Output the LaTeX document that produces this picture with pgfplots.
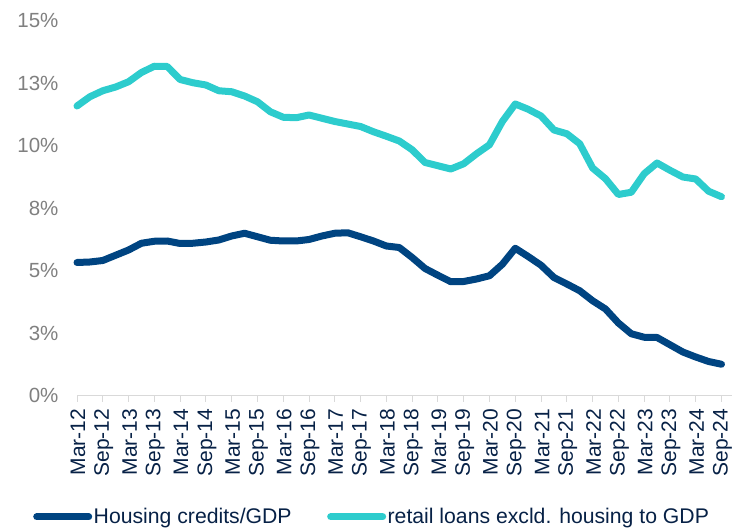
\documentclass[border=0pt]{standalone}
\usepackage{pgfplots}
\pgfplotsset{compat=1.18}
\usepackage{fontspec}
\setmainfont{Liberation Sans}
\definecolor{bbvablue}{RGB}{0,68,129}
\definecolor{bbvaaqua}{RGB}{45,204,205}
\definecolor{navytext}{RGB}{7,33,70}
\definecolor{ticktext}{RGB}{128,128,128}
\definecolor{axisgray}{RGB}{217,217,217}
\begin{document}
\begin{tikzpicture}
\useasboundingbox (0,0) rectangle (732bp,530bp);
\begin{axis}[
  at={(77bp,134.5bp)}, anchor=south west,
  scale only axis,
  width=657.4bp, height=375bp,
  xmin=0, xmax=51, ymin=0, ymax=15,
  axis x line*=bottom, axis y line*=left,
  x axis line style={draw=axisgray, line width=1.2bp},
  y axis line style={draw=none},
  xtick={0,2,...,50},
  xticklabels={Mar-12,Sep-12,Mar-13,Sep-13,Mar-14,Sep-14,Mar-15,Sep-15,Mar-16,Sep-16,Mar-17,Sep-17,Mar-18,Sep-18,Mar-19,Sep-19,Mar-20,Sep-20,Mar-21,Sep-21,Mar-22,Sep-22,Mar-23,Sep-23,Mar-24,Sep-24},
  ytick={0,2.5,5,7.5,10,12.5,15},
  yticklabels={0\%,3\%,5\%,8\%,10\%,13\%,15\%},
  tick align=outside,
  major tick length=6bp,
  xtick style={draw=axisgray, line width=1bp},
  ytick style={draw=none},
  x tick label style={xshift=1bp, yshift=-5bp, rotate=90, anchor=east, font=\fontsize{21bp}{24bp}\selectfont, text=navytext, inner sep=2bp},
  y tick label style={anchor=east, font=\fontsize{20.5bp}{24bp}\selectfont, text=ticktext, xshift=-9bp},
  /pgf/number format/assume math mode=true,
  clip=false,
  legend columns=2,
  legend style={at={(-0.0669,-0.3235)}, anchor=west, draw=none, fill=none,
    font=\fontsize{21.2bp}{24bp}\selectfont, text=navytext,
    /tikz/every even column/.append style={column sep=34bp},
    inner sep=0pt, nodes={inner sep=1.5bp}},
  legend image code/.code={\draw[#1, line cap=round] (3.5bp,0bp) -- (55.5bp,0bp);},
]
\addplot[bbvablue, line width=7bp, line join=round, line cap=round] coordinates {
(0,5.32)(1,5.34)(2,5.40)(3,5.61)(4,5.82)(5,6.09)(6,6.17)(7,6.18)(8,6.08)(9,6.09)
(10,6.14)(11,6.22)(12,6.38)(13,6.49)(14,6.35)(15,6.21)(16,6.18)(17,6.18)(18,6.24)(19,6.38)
(20,6.49)(21,6.51)(22,6.35)(23,6.18)(24,5.98)(25,5.92)(26,5.52)(27,5.08)(28,4.81)(29,4.55)
(30,4.56)(31,4.66)(32,4.79)(33,5.25)(34,5.89)(35,5.56)(36,5.21)(37,4.72)(38,4.46)(39,4.19)
(40,3.79)(41,3.46)(42,2.90)(43,2.47)(44,2.33)(45,2.32)(46,2.03)(47,1.74)(48,1.54)(49,1.36)
(50,1.25)};
\addlegendentry{Housing credits/GDP}
\addplot[bbvaaqua, line width=7bp, line join=round, line cap=round] coordinates {
(0,11.58)(1,11.95)(2,12.19)(3,12.34)(4,12.55)(5,12.92)(6,13.17)(7,13.16)(8,12.64)(9,12.51)
(10,12.42)(11,12.19)(12,12.15)(13,11.98)(14,11.75)(15,11.35)(16,11.13)(17,11.11)(18,11.22)(19,11.09)
(20,10.96)(21,10.86)(22,10.76)(23,10.55)(24,10.37)(25,10.18)(26,9.83)(27,9.32)(28,9.19)(29,9.06)
(30,9.27)(31,9.67)(32,10.03)(33,10.96)(34,11.66)(35,11.45)(36,11.18)(37,10.62)(38,10.47)(39,10.07)
(40,9.10)(41,8.67)(42,8.04)(43,8.13)(44,8.87)(45,9.30)(46,9.01)(47,8.74)(48,8.66)(49,8.17)
(50,7.95)};
\addlegendentry{retail loans excld. housing to GDP}
\end{axis}
\end{tikzpicture}
\end{document}
